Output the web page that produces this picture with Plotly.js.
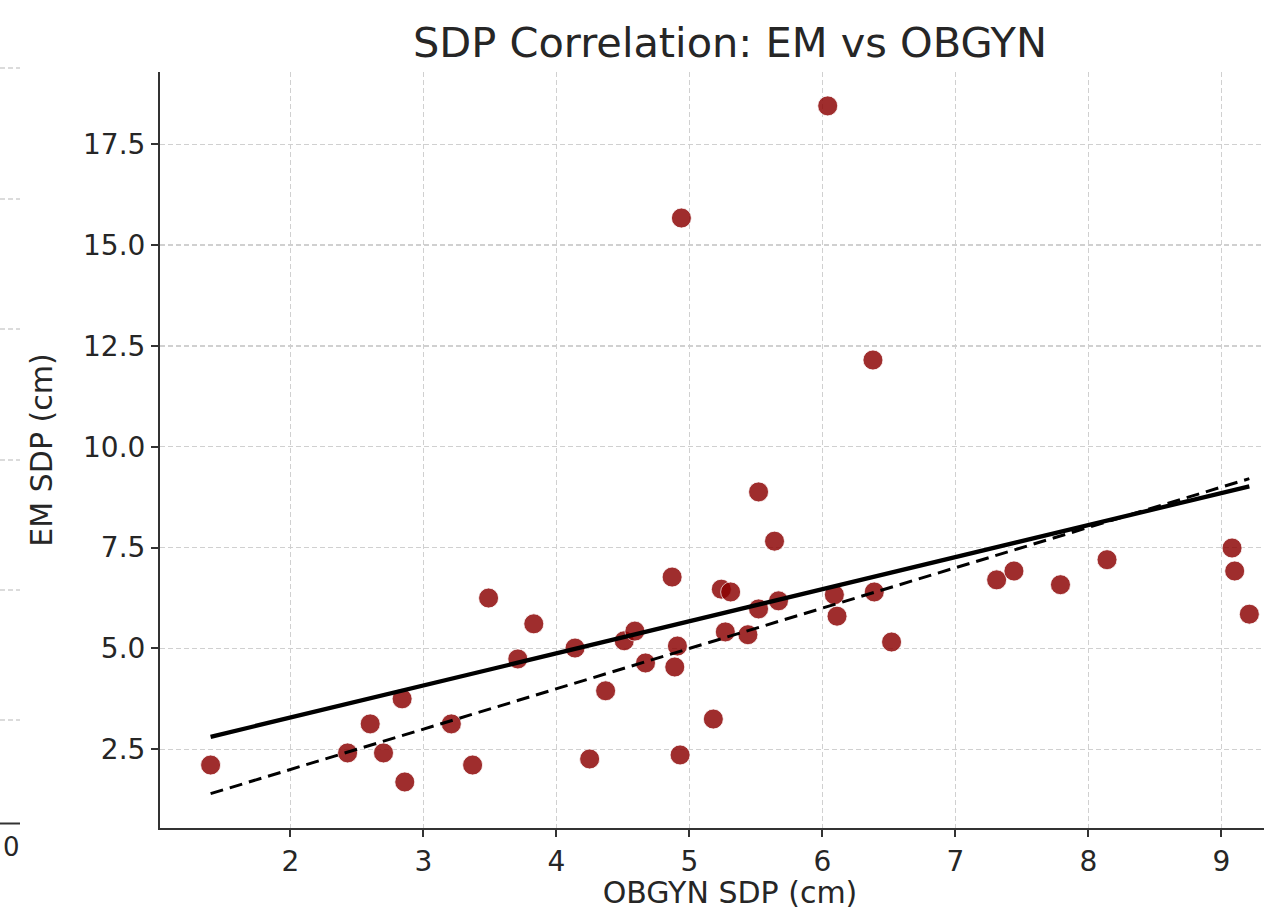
<!DOCTYPE html>
<html>
<head>
<meta charset="utf-8">
<script src="https://cdn.plot.ly/plotly-3.0.1.min.js"></script>
<style>
html,body{margin:0;padding:0;overflow:hidden;background:#fff;}
#chart{width:1300px;height:910px;}
</style>
</head>
<body>
<div id="chart"></div>
<script>
// OBGYN SDP (cm) vs EM SDP (cm)
const obgynSDP = [1.40, 2.43, 2.60, 2.70, 2.84, 2.86, 3.21, 3.37, 3.49, 3.71, 3.83, 4.14, 4.25, 4.37, 4.51, 4.59, 4.67, 4.87, 4.89, 4.91, 4.93, 4.94, 5.18, 5.24, 5.31, 5.27, 5.44, 5.52, 5.52, 5.64, 5.67, 6.04, 6.09, 6.11, 6.38, 6.39, 6.52, 7.31, 7.44, 7.79, 8.14, 9.08, 9.10, 9.21];
const emSDP    = [2.11, 2.41, 3.13, 2.41, 3.75, 1.69, 3.13, 2.11, 6.25, 4.74, 5.61, 5.01, 2.26, 3.95, 5.19, 5.43, 4.64, 6.77, 4.54, 5.06, 2.36, 15.67, 3.25, 6.47, 6.40, 5.41, 5.34, 5.98, 8.88, 7.66, 6.18, 18.45, 6.33, 5.80, 12.15, 6.40, 5.16, 6.70, 6.92, 6.58, 7.20, 7.49, 6.92, 5.85];

// Regression line endpoints and identity (y = x) line endpoints
const fitX = [1.40, 9.21];
const fitY = [2.81, 9.02];
const identityX = [1.40, 9.21];
const identityY = [1.40, 9.21];

const xTicks = [2, 3, 4, 5, 6, 7, 8, 9];
const yTicks = [2.5, 5.0, 7.5, 10.0, 12.5, 15.0, 17.5];
const yTickText = ['2.5', '5.0', '7.5', '10.0', '12.5', '15.0', '17.5'];

const FONT = 'DejaVu Sans, Liberation Sans, sans-serif';
const TXT = '#262626';

const traces = [
  {
    x: obgynSDP, y: emSDP, type: 'scatter', mode: 'markers',
    marker: {size: 20, color: 'rgb(139,0,0)', opacity: 0.82, line: {color: 'white', width: 0.8}},
    hoverinfo: 'x+y', showlegend: false
  },
  {
    x: fitX, y: fitY, type: 'scatter', mode: 'lines',
    line: {color: 'black', width: 4.3}, showlegend: false
  },
  {
    x: identityX, y: identityY, type: 'scatter', mode: 'lines',
    line: {color: 'black', width: 3, dash: '13px,7px'}, showlegend: false
  }
];

// plot area in page pixels: left 160, right 1300, top 72, bottom 828
const L = 160, R = 1300, T = 72, B = 828;
function px2paperX(px){ return (px - L) / (R - L); }
function px2paperY(py){ return (B - py) / (B - T); }

// fragments of the neighbouring panel visible on the left edge
const shapes = [];
[68, 199, 329, 460, 590, 720].forEach(function(py){
  shapes.push({type: 'line', xref: 'paper', yref: 'paper',
    x0: px2paperX(0), x1: px2paperX(20), y0: px2paperY(py), y1: px2paperY(py),
    line: {color: '#d0d0d0', width: 1.3, dash: '5px,3px'}});
});
shapes.push({type: 'line', xref: 'paper', yref: 'paper',
  x0: px2paperX(0), x1: px2paperX(20), y0: px2paperY(823.5), y1: px2paperY(823.5),
  line: {color: '#333', width: 2}});

const layout = {
  width: 1300, height: 910,
  margin: {l: L, r: 1300 - R, t: T, b: 910 - B, pad: 0},
  paper_bgcolor: 'white', plot_bgcolor: 'white',
  font: {family: FONT, color: TXT},
  title: {text: 'SDP Correlation: EM vs OBGYN', font: {family: FONT, size: 41.5, color: TXT},
          xref: 'paper', x: 0.5, xanchor: 'center', yref: 'container', y: 1 - 42/910, yanchor: 'middle'},
  xaxis: {
    range: [1.0195, 9.591], tickvals: xTicks, ticktext: xTicks.map(String),
    showgrid: true, gridcolor: '#d0d0d0', gridwidth: 1.3, griddash: '5px,3px',
    zeroline: false, showline: true, linecolor: '#333', linewidth: 2, mirror: false,
    ticks: 'outside', ticklen: 7, tickwidth: 2, tickcolor: '#333',
    tickfont: {family: FONT, size: 28, color: TXT},
    title: {text: 'OBGYN SDP (cm)', font: {family: FONT, size: 30, color: TXT}, standoff: 10},
    automargin: false
  },
  yaxis: {
    range: [0.549, 19.29], tickvals: yTicks, ticktext: yTickText,
    showgrid: true, gridcolor: '#d0d0d0', gridwidth: 1.3, griddash: '5px,3px',
    zeroline: false, showline: true, linecolor: '#333', linewidth: 2, mirror: false,
    ticks: 'outside', ticklen: 7, tickwidth: 2, tickcolor: '#333',
    tickfont: {family: FONT, size: 28, color: TXT},
    title: {text: 'EM SDP (cm)', font: {family: FONT, size: 30, color: TXT}, standoff: 22},
    automargin: false
  },
  shapes: shapes,
  annotations: [
    {text: '0', xref: 'paper', yref: 'paper', x: px2paperX(1), y: px2paperY(847),
     xanchor: 'left', yanchor: 'middle', showarrow: false,
     font: {family: FONT, size: 26, color: TXT}}
  ]
};

Plotly.newPlot('chart', traces, layout, {displayModeBar: false, staticPlot: true});
</script>
</body>
</html>
